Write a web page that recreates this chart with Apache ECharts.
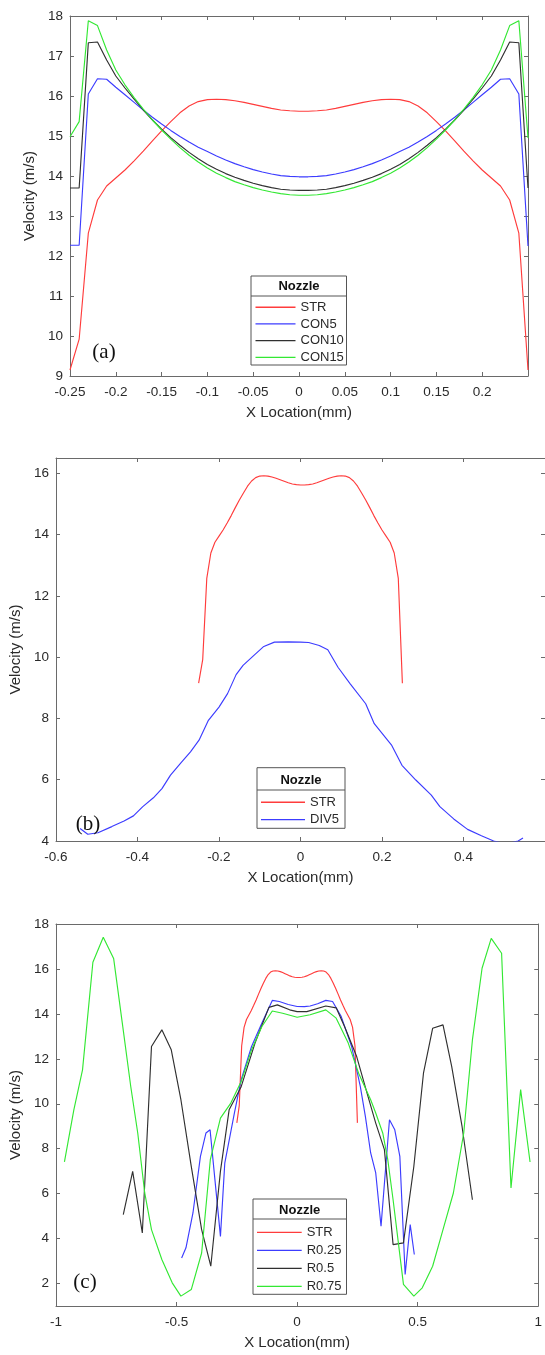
<!DOCTYPE html>
<html>
<head>
<meta charset="utf-8">
<script src="https://cdn.jsdelivr.net/npm/echarts@6/dist/echarts.min.js"></script>
<style>
html,body{margin:0;padding:0;background:#fff;}
#chart{width:545px;height:1355px;}
</style>
</head>
<body>
<div id="chart"></div>
<script>
// ---------- DATA ----------
// Panel (a) and STR profile, x locations (mm)
const xA = [-0.25,-0.24,-0.23,-0.22,-0.21,-0.2,-0.19,-0.18,-0.17,-0.16,-0.15,-0.14,-0.13,-0.12,-0.11,-0.1,-0.09,-0.08,-0.07,-0.06,-0.05,-0.04,-0.03,-0.02,-0.01,0,
  0.01,0.02,0.03,0.04,0.05,0.06,0.07,0.08,0.09,0.1,0.11,0.12,0.13,0.14,0.15,0.16,0.17,0.18,0.19,0.2,0.21,0.22,0.23,0.24,0.25];
const strV = [9.15,9.92,12.57,13.40,13.75,13.95,14.15,14.38,14.62,14.88,15.13,15.36,15.58,15.75,15.86,15.91,15.92,15.91,15.88,15.84,15.79,15.74,15.69,15.65,15.63,15.62,
  15.62,15.63,15.65,15.69,15.74,15.79,15.84,15.88,15.91,15.92,15.91,15.86,15.75,15.58,15.36,15.13,14.88,14.62,14.38,14.15,13.95,13.75,13.40,12.57,9.15];
const con5V = [12.27,12.27,16.05,16.43,16.42,16.22,16.03,15.84,15.65,15.47,15.30,15.14,14.99,14.85,14.72,14.61,14.50,14.40,14.31,14.23,14.16,14.10,14.05,14.01,13.99,13.98,
  13.98,13.99,14.01,14.05,14.10,14.16,14.23,14.31,14.40,14.50,14.61,14.72,14.85,14.99,15.14,15.30,15.47,15.65,15.84,16.03,16.22,16.42,16.43,16.05,12.25];
const con10V = [13.70,13.70,17.33,17.35,16.90,16.50,16.20,15.92,15.65,15.40,15.17,14.96,14.77,14.59,14.43,14.29,14.17,14.06,13.97,13.89,13.82,13.76,13.71,13.67,13.65,13.64,
  13.64,13.65,13.67,13.71,13.76,13.82,13.89,13.97,14.06,14.17,14.29,14.43,14.59,14.77,14.96,15.17,15.40,15.65,15.92,16.20,16.50,16.90,17.35,17.33,13.70];
const con15V = [14.98,15.36,17.88,17.76,17.15,16.65,16.28,15.96,15.67,15.40,15.15,14.92,14.71,14.52,14.35,14.20,14.07,13.96,13.86,13.78,13.71,13.65,13.60,13.56,13.53,13.52,
  13.52,13.53,13.56,13.60,13.65,13.71,13.78,13.86,13.96,14.07,14.20,14.35,14.52,14.71,14.92,15.15,15.40,15.67,15.96,16.28,16.65,17.15,17.76,17.88,14.95];

// Panel (b): DIV5
const xDiv = [-0.541,-0.522,-0.497,-0.463,-0.433,-0.41,-0.387,-0.361,-0.34,-0.319,-0.293,-0.27,-0.249,-0.226,-0.2,-0.179,-0.158,-0.141,-0.115,-0.09,-0.064,-0.03,0,0.02,0.046,0.067,0.092,0.122,0.16,0.181,0.224,0.249,0.283,0.321,0.342,0.376,0.41,0.444,0.474,0.505,0.534,0.546];
const div5V = [4.41,4.22,4.27,4.47,4.65,4.82,5.12,5.41,5.71,6.15,6.56,6.91,7.29,7.94,8.37,8.81,9.43,9.73,10.05,10.35,10.49,10.50,10.49,10.48,10.38,10.24,9.67,9.13,8.48,7.83,7.12,6.47,5.99,5.50,5.12,4.72,4.38,4.17,4.00,3.90,4.00,4.10];

// Panel (c)
const xR025 = [-0.479,-0.461,-0.432,-0.401,-0.378,-0.361,-0.318,-0.30,-0.26,-0.232,-0.189,-0.146,-0.103,-0.074,-0.037,0,0.03,0.054,0.085,0.119,0.147,0.183,0.226,0.262,0.283,0.305,0.326,0.348,0.383,0.405,0.426,0.448,0.469,0.486];
const r025V = [3.14,3.59,5.14,7.66,8.70,8.84,4.10,7.36,9.59,11.07,12.55,13.59,14.60,14.55,14.42,14.33,14.32,14.35,14.45,14.60,14.55,13.88,12.55,10.77,9.44,7.81,6.92,4.55,9.29,8.84,7.66,2.40,4.62,3.29];
const xR05 = [-0.721,-0.682,-0.642,-0.604,-0.561,-0.522,-0.482,-0.439,-0.396,-0.358,-0.318,-0.282,-0.232,-0.175,-0.117,-0.082,-0.031,0,0.04,0.119,0.162,0.197,0.247,0.29,0.326,0.362,0.398,0.441,0.484,0.524,0.562,0.605,0.641,0.684,0.727];
const r05V = [5.07,6.99,4.25,12.55,13.29,12.40,10.18,7.21,4.40,2.77,7.00,9.73,10.76,12.69,14.29,14.40,14.18,14.10,14.10,14.35,14.27,13.43,12.10,10.47,9.14,7.96,3.73,3.81,7.21,11.36,13.36,13.51,11.66,8.99,5.73];
const xR075 = [-0.965,-0.926,-0.890,-0.847,-0.804,-0.761,-0.725,-0.690,-0.661,-0.632,-0.604,-0.561,-0.518,-0.482,-0.439,-0.396,-0.360,-0.318,-0.275,-0.232,-0.189,-0.146,-0.103,-0.060,0,0.054,0.119,0.162,0.212,0.255,0.305,0.326,0.355,0.376,0.398,0.441,0.484,0.519,0.562,0.605,0.648,0.691,0.727,0.767,0.805,0.848,0.887,0.927,0.966];
const r075V = [7.41,9.73,11.51,16.30,17.41,16.47,13.59,10.77,8.70,6.03,4.40,3.07,2.03,1.44,1.73,3.36,7.51,9.36,10.03,10.99,12.40,13.44,14.13,14.03,13.85,13.96,14.18,13.81,12.70,11.36,10.18,9.59,8.70,7.51,5.73,1.96,1.44,1.81,2.77,4.40,6.03,8.70,12.84,16.03,17.36,16.70,6.25,10.63,7.41];

// Tick values
const ticksAX = [-0.25,-0.2,-0.15,-0.1,-0.05,0,0.05,0.1,0.15,0.2];
const ticksAY = [9,10,11,12,13,14,15,16,17,18];
const ticksBX = [-0.6,-0.4,-0.2,0,0.2,0.4];
const ticksBY = [4,6,8,10,12,14,16];
const ticksCX = [-1,-0.5,0,0.5,1];
const ticksCY = [2,4,6,8,10,12,14,16,18];

// Names
const legendA = ['STR','CON5','CON10','CON15'];
const legendB = ['STR','DIV5'];
const legendC = ['STR','R0.25','R0.5','R0.75'];

// ---------- STYLE ----------
const FONT = '"Liberation Sans", Arial, sans-serif';
const AX = '#6a6a6a';
const TXT = '#2a2a2a';
const C = {red:'#ff3c3c', blue:'#3c3cff', black:'#303030', green:'#33e833'};

function xAxes(gi, min, max, ticks){
  const base = {type:'value', gridIndex:gi, min, max, splitLine:{show:false},
    axisLine:{show:true, onZero:false, lineStyle:{color:AX, width:1}},
    axisTick:{show:true, inside:true, length:4, customValues:ticks, lineStyle:{color:AX, width:1}}};
  return [
    Object.assign({}, base, {position:'bottom',
      axisLabel:{customValues:ticks, color:TXT, fontSize:13.5, fontFamily:FONT, margin:9, formatter:v=>String(v)},
      name:'X Location(mm)', nameLocation:'middle', nameGap:29,
      nameTextStyle:{color:TXT, fontSize:15, fontFamily:FONT}}),
    Object.assign({}, base, {position:'top', axisLabel:{show:false}})
  ];
}
function yAxes(gi, min, max, ticks, gap){
  const base = {type:'value', gridIndex:gi, min, max, splitLine:{show:false},
    axisLine:{show:true, onZero:false, lineStyle:{color:AX, width:1}},
    axisTick:{show:true, inside:true, length:4, customValues:ticks, lineStyle:{color:AX, width:1}}};
  return [
    Object.assign({}, base, {position:'left',
      axisLabel:{customValues:ticks, color:TXT, fontSize:13.5, fontFamily:FONT, margin:7, formatter:v=>String(v)},
      name:'Velocity (m/s)', nameLocation:'middle', nameGap:gap,
      nameTextStyle:{color:TXT, fontSize:15, fontFamily:FONT}}),
    Object.assign({}, base, {position:'right', axisLabel:{show:false}})
  ];
}
function pairs(xs, ys){ return xs.map((x,i)=>[x, ys[i]]); }
function line(name, color, xi, yi, data){
  return {type:'line', name, xAxisIndex:xi, yAxisIndex:yi, data, symbol:'none', showSymbol:false,
    clip:true, animation:false, z:2, lineStyle:{color, width:1.15}, itemStyle:{color}};
}
function legend(names, left, top, iw, lh){
  return {data:names, orient:'vertical', left, top, padding:0, itemWidth:iw, itemHeight:1.3, itemGap:0, z:30,
    icon:'rect', selectedMode:false, textStyle:{color:TXT, fontSize:13, fontFamily:FONT, lineHeight:lh}};
}
function legendBox(x, y, w, h, sepY, titleX, titleY){
  return [
    {type:'rect', z:10, shape:{x, y, width:w, height:h}, style:{fill:'#fff', stroke:'#555', lineWidth:1}},
    {type:'line', z:11, shape:{x1:x, y1:sepY, x2:x+w, y2:sepY}, style:{stroke:'#555', lineWidth:1}},
    {type:'text', z:11, x:titleX, y:titleY, style:{text:'Nozzle', fill:'#111', font:'bold 13px ' + FONT, align:'center', verticalAlign:'middle'}}
  ];
}
function panelLabel(t, x, y){
  return {type:'text', z:12, x, y, style:{text:t, fill:'#111', font:'21px "Liberation Serif", "Times New Roman", serif', align:'center', verticalAlign:'middle'}};
}

const option = {
  backgroundColor:'#fff',
  animation:false,
  grid:[
    {left:70, top:16, width:458, height:360},
    {left:56, top:458, width:491, height:383},
    {left:56, top:924, width:486.6, height:382}
  ],
  xAxis:[].concat(xAxes(0,-0.25,0.25,ticksAX), xAxes(1,-0.6,0.6,ticksBX), xAxes(2,-1,1,ticksCX)),
  yAxis:[].concat(yAxes(0,9,18,ticksAY,28), yAxes(1,4,16.5,ticksBY,30), yAxes(2,1,18,ticksCY,30)),
  legend:[
    legend(legendA, 255.5, 298.9, 40, 16.7),
    legend(legendB, 261, 793.6, 44, 17.3),
    legend(legendC, 257, 1223.3, 44.7, 18)
  ],
  graphic:{elements:[].concat(
    legendBox(251, 276, 95.5, 89, 296, 299, 286.7),
    legendBox(257, 767.7, 88, 60.6, 790, 301, 780.7),
    legendBox(253, 1199, 93.5, 95.3, 1219, 299.7, 1210),
    [panelLabel('(a)', 104, 352), panelLabel('(b)', 88, 824), panelLabel('(c)', 85, 1282)]
  )},
  series:[
    line('STR', C.red, 0, 0, pairs(xA, strV)),
    line('CON5', C.blue, 0, 0, pairs(xA, con5V)),
    line('CON10', C.black, 0, 0, pairs(xA, con10V)),
    line('CON15', C.green, 0, 0, pairs(xA, con15V)),
    line('STR', C.red, 2, 2, pairs(xA, strV)),
    line('DIV5', C.blue, 2, 2, pairs(xDiv, div5V)),
    line('STR', C.red, 4, 4, pairs(xA, strV)),
    line('R0.25', C.blue, 4, 4, pairs(xR025, r025V)),
    line('R0.5', C.black, 4, 4, pairs(xR05, r05V)),
    line('R0.75', C.green, 4, 4, pairs(xR075, r075V))
  ]
};
const chart = echarts.init(document.getElementById('chart'), null, {renderer:'canvas'});
chart.setOption(option);
</script>
</body>
</html>
